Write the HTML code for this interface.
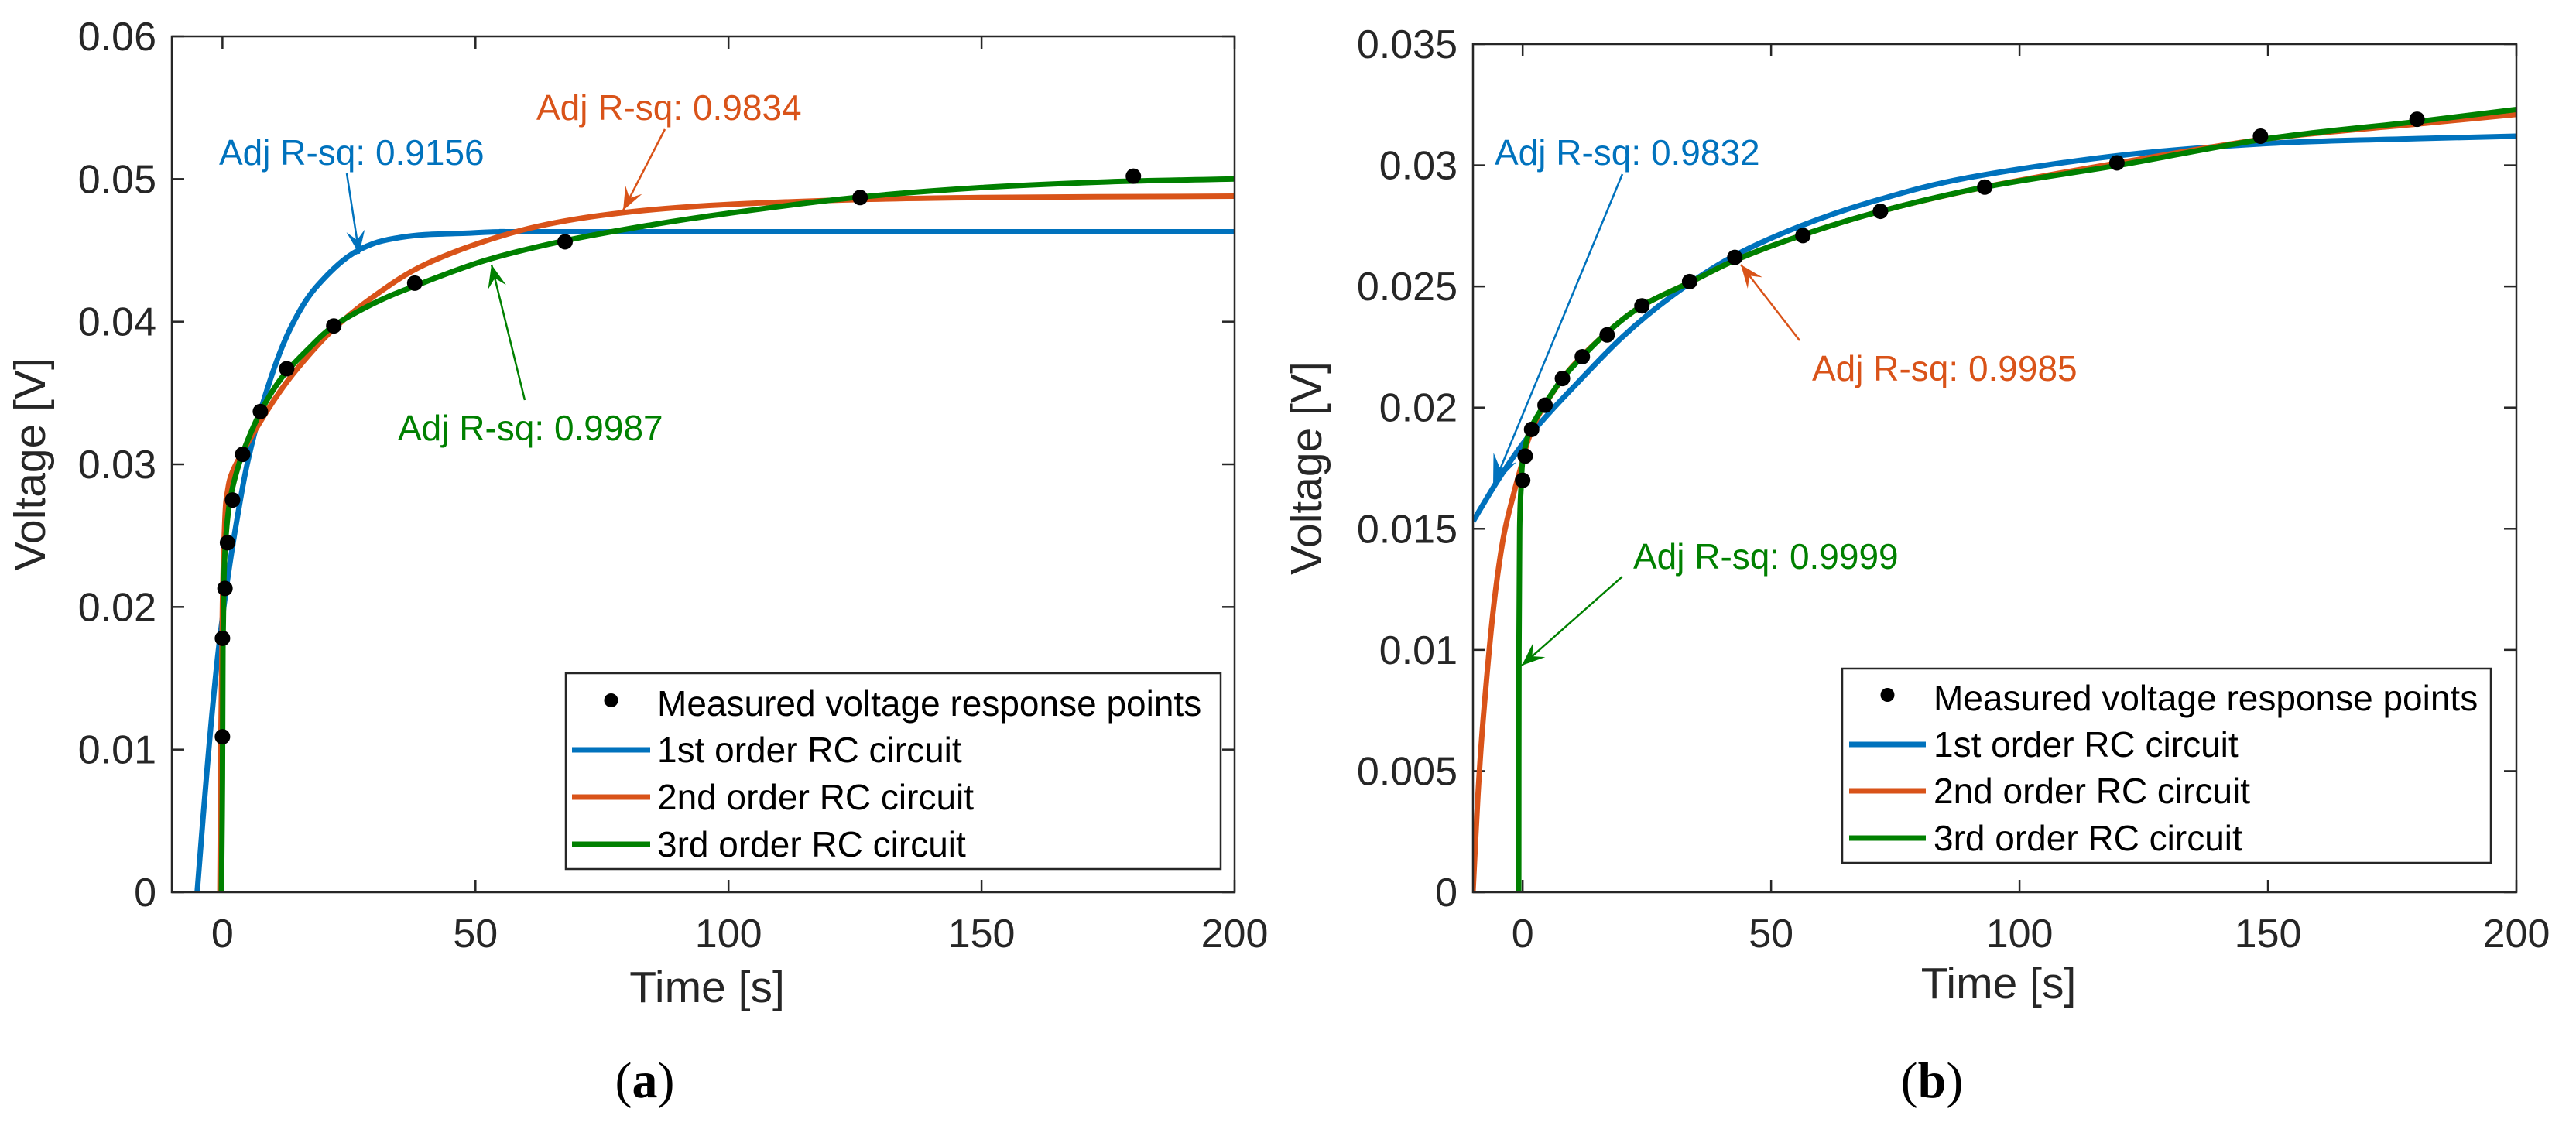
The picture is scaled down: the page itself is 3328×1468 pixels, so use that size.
<!DOCTYPE html>
<html><head><meta charset="utf-8"><style>
html,body{margin:0;padding:0;background:#fff;}
svg{display:block;font-family:"Liberation Sans",Arial,sans-serif;}
</style></head><body>
<svg id="fig" width="3328" height="1468" viewBox="0 0 3328 1468" xmlns="http://www.w3.org/2000/svg">
<g id="panelA"></g>
<g id="panelB"></g>
<text x="833" y="1418" text-anchor="middle" font-family="Liberation Serif,serif" font-size="66">(<tspan font-weight="bold">a</tspan>)</text>
<text x="2496" y="1418" text-anchor="middle" font-family="Liberation Serif,serif" font-size="66">(<tspan font-weight="bold">b</tspan>)</text>
</svg>
<script>
// ---------- Panel A data ----------
const aPointsT = [0,0,0.5,1,2,4,7.5,12.7,22,38,67.7,126,180];
const aPointsV = [0.0109,0.0178,0.0213,0.0245,0.0275,0.0307,0.0337,0.0367,0.0397,0.0427,0.0456,0.0487,0.0502];
const aFit1T = [-5,-3,-1,1,3,5,8,12,16,20,25,30,35,40,48,55,70,200];
const aFit1V = [0,0.0088,0.0163,0.0219,0.0264,0.0302,0.0343,0.0384,0.0412,0.0430,0.0446,0.0455,0.0459,0.0461,0.0462,0.0463,0.0463,0.0463];
const aFit2T = [-0.5,-0.3,0,0.5,1,2,5,10,15,22,30,40,55,70,90,120,150,200];
const aFit2V = [0,0.011,0.0202,0.0262,0.0281,0.0295,0.0315,0.0344,0.0368,0.0395,0.0418,0.0440,0.0460,0.0472,0.0480,0.0485,0.0487,0.0488];
const aFit3T = [-0.2,0,0.1,0.3,0.7,1.5,3,5,8,12,17,22,30,38,52,68,85,100,125,150,175,200];
const aFit3V = [0,0.008,0.017,0.022,0.025,0.0275,0.0297,0.0317,0.0340,0.0362,0.0381,0.0397,0.0413,0.0425,0.0443,0.0457,0.0468,0.0476,0.0487,0.0494,0.0498,0.0500];
const aYTicks = [0,0.01,0.02,0.03,0.04,0.05,0.06];
const aYLabels = ["0","0.01","0.02","0.03","0.04","0.05","0.06"];
// ---------- Panel B data ----------
const bPointsT = [0,0.5,1.8,4.5,8,12,17,24,33.6,42.7,56.4,72,93,119.6,148.5,180];
const bPointsV = [0.0170,0.0180,0.0191,0.0201,0.0212,0.0221,0.0230,0.0242,0.0252,0.0262,0.0271,0.0281,0.0291,0.0301,0.0312,0.0319];
const bFit1T = [-10,-5,0,5,10,20,30,42,56,72,90,120,150,180,200];
const bFit1V = [0.0153,0.0170,0.0185,0.0197,0.0208,0.0229,0.0246,0.0262,0.0275,0.0286,0.0295,0.0304,0.0309,0.0311,0.0312];
const bFit2T = [-10,-9,-8,-6,-4,-2,0,1,3,6,10,17,24,34,43,56,72,93,120,150,180,200];
const bFit2V = [0,0.004,0.007,0.0115,0.0145,0.0163,0.0178,0.0186,0.0196,0.0206,0.0217,0.0231,0.0242,0.0252,0.0261,0.0271,0.0281,0.0291,0.0301,0.0311,0.0317,0.0321];
const bFit3T = [-0.8,-0.75,-0.6,-0.3,0,1,2,4,8,12,17,24,34,43,56,72,93,120,150,180,200];
const bFit3V = [0,0.010,0.0150,0.0168,0.0178,0.0188,0.0193,0.0200,0.0212,0.0221,0.0231,0.0242,0.0252,0.0261,0.0271,0.0281,0.0291,0.0300,0.0311,0.0318,0.0323];
const bYTicks = [0,0.005,0.01,0.015,0.02,0.025,0.03,0.035];
const bYLabels = ["0","0.005","0.01","0.015","0.02","0.025","0.03","0.035"];
const xTicks = [0,50,100,150,200];
const xLabels = ["0","50","100","150","200"];
const seriesNames = ["Measured voltage response points","1st order RC circuit","2nd order RC circuit","3rd order RC circuit"];
const aAnnText = ["Adj R-sq: 0.9156","Adj R-sq: 0.9834","Adj R-sq: 0.9987"];
const bAnnText = ["Adj R-sq: 0.9832","Adj R-sq: 0.9985","Adj R-sq: 0.9999"];

const NS="http://www.w3.org/2000/svg";
const COL=["#0072BD","#D95319","#008000"];
function mk(tag,parent,attrs){const e=document.createElementNS(NS,tag);for(const k in attrs)e.setAttribute(k,attrs[k]);parent.appendChild(e);return e;}
function smooth(P){
  let d='M'+P[0][0].toFixed(1)+','+P[0][1].toFixed(1);
  for(let i=0;i<P.length-1;i++){
    const p0=P[Math.max(0,i-1)],p1=P[i],p2=P[i+1],p3=P[Math.min(P.length-1,i+2)];
    const c1x=p1[0]+(p2[0]-p0[0])/6,c1y=p1[1]+(p2[1]-p0[1])/6;
    const c2x=p2[0]-(p3[0]-p1[0])/6,c2y=p2[1]-(p3[1]-p1[1])/6;
    d+=` C${c1x.toFixed(1)},${c1y.toFixed(1)} ${c2x.toFixed(1)},${c2y.toFixed(1)} ${p2[0].toFixed(1)},${p2[1].toFixed(1)}`;
  }
  return d;
}

function panel(g,box,ymax,yT,yL,pts,fits,leg,ann,ylabX,xlabY){
  const X=t=>box.l+(t+10)/210*(box.r-box.l);
  const Y=v=>box.b-v/ymax*(box.b-box.t);
  const clip='clip'+g.id;
  const cp=mk('clipPath',g,{id:clip});mk('rect',cp,{x:box.l,y:box.t,width:box.r-box.l,height:box.b-box.t});
  yT.forEach((v,i)=>{
    const y=Y(v);
    const t1=mk('line',g,{x1:box.l,x2:box.l+16,y1:y,y2:y,stroke:'#262626','stroke-width':2.5});
    
    mk('line',g,{x1:box.r-16,x2:box.r,y1:y,y2:y,stroke:'#262626','stroke-width':2.5});
    const tx=mk('text',g,{x:box.l-20,y:y+18,'text-anchor':'end','font-size':52,fill:'#262626'});
    tx.textContent=yL[i];
    
  });
  xTicks.forEach((t,i)=>{
    const x=X(t);
    mk('line',g,{x1:x,x2:x,y1:box.b,y2:box.b-16,stroke:'#262626','stroke-width':2.5});
    mk('line',g,{x1:x,x2:x,y1:box.t,y2:box.t+16,stroke:'#262626','stroke-width':2.5});
    const tx=mk('text',g,{x:x,y:box.b+71,'text-anchor':'middle','font-size':52,fill:'#262626'});
    tx.textContent=xLabels[i];
    
  });
  const xl=mk('text',g,{x:(box.l+box.r)/2+5,y:xlabY,'text-anchor':'middle','font-size':57,fill:'#262626'});
  xl.textContent='Time [s]';
  
  const ym=(box.t+box.b)/2;
  const yl=mk('text',g,{x:ylabX,y:ym,'text-anchor':'middle','font-size':57,fill:'#262626',transform:`rotate(-90 ${ylabX} ${ym})`});
  yl.textContent='Voltage [V]';
  
  const fg=mk('g',g,{'clip-path':`url(#${clip})`});
  fits.forEach((f,k)=>{
    const P=f[0].map((t,i)=>[X(t),Y(f[1][i])]);
    const p=mk('path',fg,{d:smooth(P),fill:'none',stroke:COL[k],'stroke-width':7,'stroke-linejoin':'round'});
    
  });
  pts[0].forEach((t,i)=>{
    const c=mk('circle',fg,{cx:X(t),cy:Y(pts[1][i]),r:10,fill:'#000'});
    
  });
  ann.forEach(a=>{
    const [x1,y1,x2,y2]=a.arrow;
    const ln=mk('line',g,{x1:x1,y1:y1,x2:x2,y2:y2,stroke:a.c,'stroke-width':a.w||2.5});
    
    const ang=Math.atan2(y2-y1,x2-x1),L=a.h||30,W=a.hw||12;
    const bx=x2-L*Math.cos(ang),by=y2-L*Math.sin(ang),nx=-Math.sin(ang),ny=Math.cos(ang);
    const mx=x2-L*0.6*Math.cos(ang),my=y2-L*0.6*Math.sin(ang);
    mk('path',g,{d:`M${x2},${y2} L${bx+nx*W},${by+ny*W} L${mx},${my} L${bx-nx*W},${by-ny*W} Z`,fill:a.c});
    const tx=mk('text',g,{x:a.x,y:a.y,'font-size':46,fill:a.c});
    tx.textContent=a.text;
    
  });
  const bx=mk('rect',g,{x:box.l,y:box.t,width:box.r-box.l,height:box.b-box.t,fill:'none',stroke:'#262626','stroke-width':2.5});
  
  const lg=mk('g',g,{});
  
  mk('rect',lg,{x:leg.l,y:leg.t,width:leg.r-leg.l,height:leg.b-leg.t,fill:'#fff',stroke:'#262626','stroke-width':2.5});
  seriesNames.forEach((n,i)=>{
    const y=leg.rows[i];
    const e=mk('g',lg,{});
    
    if(i===0) mk('circle',e,{cx:(leg.s1+leg.s2)/2,cy:y-4,r:9,fill:'#000'});
    else mk('line',e,{x1:leg.s1,x2:leg.s2,y1:y,y2:y,stroke:COL[i-1],'stroke-width':7});
    const tx=mk('text',e,{x:leg.tx,y:y+16,'font-size':46,fill:'#000'});
    tx.textContent=n;
  });
}

panel(document.getElementById('panelA'),{l:222,r:1595,t:47,b:1153},0.06,aYTicks,aYLabels,
  [aPointsT,aPointsV],[[aFit1T,aFit1V],[aFit2T,aFit2V],[aFit3T,aFit3V]],
  {l:731,r:1577,t:870,b:1123,rows:[909,969,1030,1091],s1:739,s2:840,tx:849},
  [{text:aAnnText[0],x:283,y:213,c:COL[0],arrow:[448,224,464,328]},
   {text:aAnnText[1],x:693,y:155,c:COL[1],arrow:[859,167,805,272]},
   {text:aAnnText[2],x:514,y:569,c:COL[2],arrow:[678,517,635,342]}],
  58,1295);

panel(document.getElementById('panelB'),{l:1903,r:3251,t:57,b:1153},0.035,bYTicks,bYLabels,
  [bPointsT,bPointsV],[[bFit1T,bFit1V],[bFit2T,bFit2V],[bFit3T,bFit3V]],
  {l:2380,r:3218,t:864,b:1115,rows:[902,962,1022,1083],s1:2389,s2:2488,tx:2498},
  [{text:bAnnText[0],x:1931,y:213,c:COL[0],arrow:[2096,225,1929,628],h:40,hw:16},
   {text:bAnnText[1],x:2341,y:492,c:COL[1],arrow:[2325,440,2249,342]},
   {text:bAnnText[2],x:2110,y:735,c:COL[2],arrow:[2096,745,1966,860]}],
  1707,1290);
</script>
</body></html>
